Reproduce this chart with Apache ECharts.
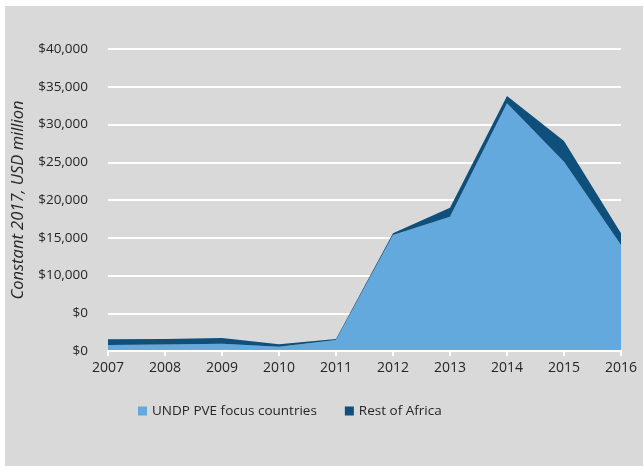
<!DOCTYPE html>
<html>
<head>
<meta charset="utf-8">
<script src="https://cdn.jsdelivr.net/npm/echarts@6/dist/echarts.min.js"></script>
<style>
html,body{margin:0;padding:0;background:#fff;}
#c{position:absolute;left:5px;top:6px;width:638px;height:460px;background:#d9d9d9;}
</style>
</head>
<body>
<div id="c"></div>
<script>
const years = ['2007','2008','2009','2010','2011','2012','2013','2014','2015','2016'];
const undpPVE = [800, 850, 970, 570, 1460, 15370, 17790, 32800, 25070, 14040];
const restOfAfrica = [750, 750, 750, 320, 130, 220, 1190, 975, 2745, 1550];
const yTickLabels = ['$0','$0','$10,000','$15,000','$20,000','$25,000','$30,000','$35,000','$40,000'];

const chart = echarts.init(document.getElementById('c'));
const font = '"Open Sans", "DejaVu Sans", sans-serif';
chart.setOption({
  backgroundColor: '#d9d9d9',
  textStyle: {fontFamily: font},
  grid: {left: 103, right: 22, top: 43, bottom: 115, outerBoundsMode: 'none', containLabel: false},
  legend: {
    left: 128, top: 393,
    itemWidth: 9, itemHeight: 9, itemGap: 28,
    icon: 'rect',
    textStyle: {fontFamily: font, fontSize: 13.5, color: '#262626'},
    data: ['UNDP PVE focus countries', 'Rest of Africa']
  },
  xAxis: {
    type: 'category',
    data: years,
    boundaryGap: false,
    axisLine: {lineStyle: {color: '#ffffff', width: 2}},
    axisTick: {lineStyle: {color: '#ffffff', width: 2}, length: 5},
    axisLabel: {color: '#262626', fontSize: 14, margin: 10, fontFamily: font},
    z: 10
  },
  yAxis: {
    type: 'value',
    min: 0, max: 40000, interval: 5000,
    name: 'Constant 2017, USD million',
    nameLocation: 'middle',
    nameGap: 80,
    nameTextStyle: {fontStyle: 'italic', fontSize: 16.5, color: '#262626', fontFamily: font},
    axisLine: {show: false},
    axisTick: {show: false},
    axisLabel: {
      color: '#262626', fontSize: 13.5, margin: 20, fontFamily: font,
      formatter: function (v) { return yTickLabels[Math.round(v / 5000)]; }
    },
    splitLine: {lineStyle: {color: '#ffffff', width: 2}}
  },
  series: [
    {
      name: 'UNDP PVE focus countries',
      type: 'line',
      stack: 'total',
      data: undpPVE,
      symbol: 'none',
      lineStyle: {width: 0},
      itemStyle: {color: '#63a9dd'},
      areaStyle: {color: '#63a9dd', opacity: 1}
    },
    {
      name: 'Rest of Africa',
      type: 'line',
      stack: 'total',
      data: restOfAfrica,
      symbol: 'none',
      lineStyle: {width: 0},
      itemStyle: {color: '#0e4f7c'},
      areaStyle: {color: '#0e4f7c', opacity: 1}
    }
  ]
});
</script>
</body>
</html>
